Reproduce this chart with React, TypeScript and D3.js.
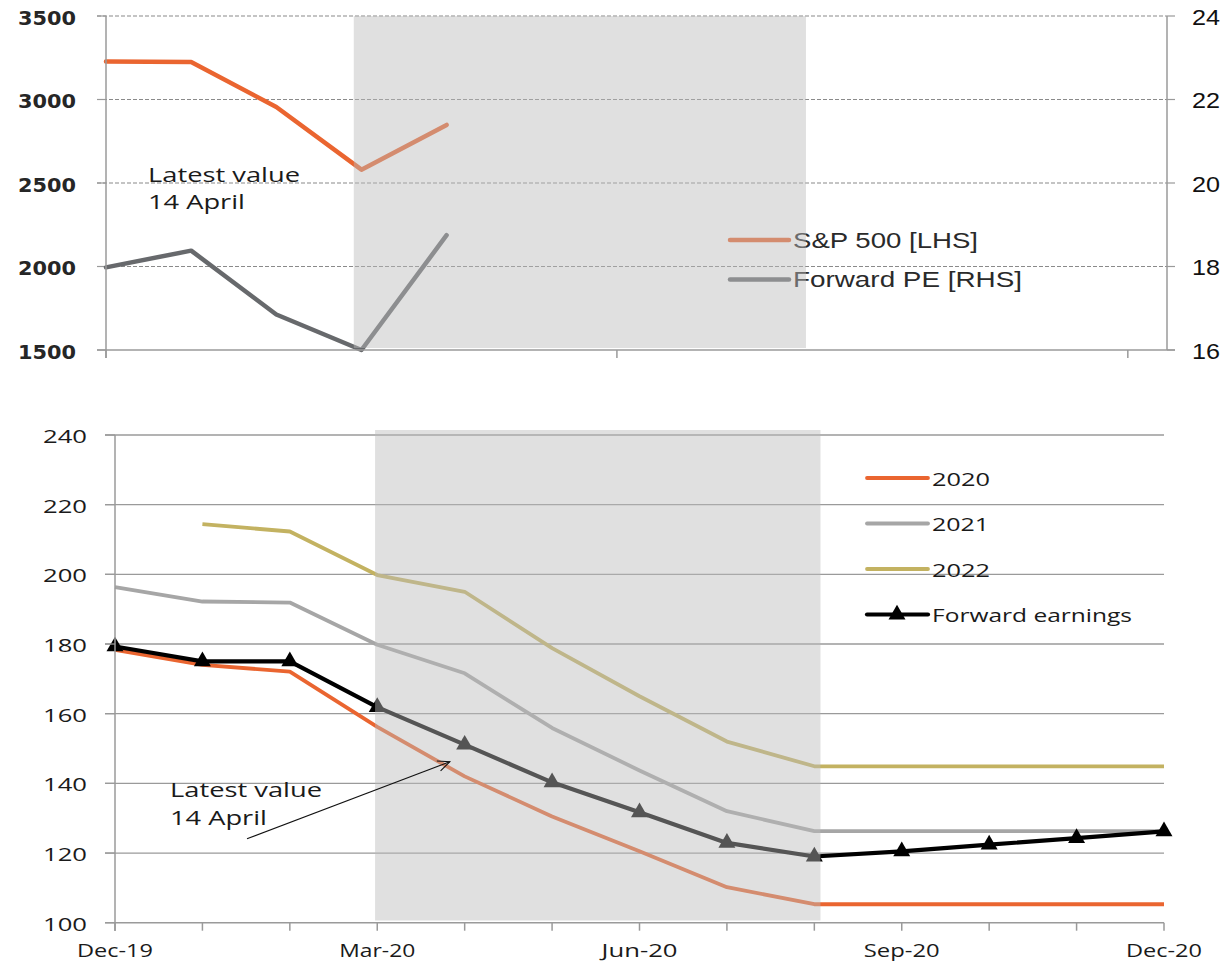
import React from 'react';
import * as d3 from 'd3';

const W = 1228;
const H = 966;

// ---------- Upper panel: S&P 500 level and forward PE (month index, Dec-19 = 0) ----------
const topMonths = [0, 1, 2, 3, 4];
const sp500 = [3228, 3224, 2955, 2580, 2848];
const forwardPE = [17.98, 18.38, 16.85, 16.0, 18.75];
const topLeftTicks = [1500, 2000, 2500, 3000, 3500];
const topRightTicks = [16, 18, 20, 22, 24];
const topXTicks = [0, 6, 12];
const topShade = [2.91, 8.22];
const topLegend = ['S&P 500 [LHS]', 'Forward PE [RHS]'];

// ---------- Lower panel: EPS estimates by year and forward earnings ----------
const months = [0, 1, 2, 3, 4, 5, 6, 7, 8, 9, 10, 11, 12];
const eps2020 = [178.3, 174.0, 172.1, 156.2, 142.0, 130.5, 120.5, 110.2, 105.3, 105.3, 105.3, 105.3, 105.3];
const eps2021 = [196.3, 192.2, 191.9, 179.8, 171.6, 155.9, 143.7, 132.0, 126.3, 126.3, 126.3, 126.3, 126.3];
const eps2022 = [null, 214.4, 212.3, 199.8, 195.0, 178.8, 165.0, 152.0, 144.9, 144.9, 144.9, 144.9, 144.9];
const fwdEarnings = [179.3, 175.0, 175.0, 161.9, 151.1, 140.3, 131.7, 122.9, 119.0, 120.5, 122.4, 124.3, 126.2];
const bottomYTicks = [100, 120, 140, 160, 180, 200, 220, 240];
const bottomXLabels = ['Dec-19', 'Mar-20', 'Jun-20', 'Sep-20', 'Dec-20'];
const bottomXLabelMonths = [0, 3, 6, 9, 12];
const bottomShade = [2.975, 8.07];
const bottomLegend = ['2020', '2021', '2022', 'Forward earnings'];
// annotation arrow: tail and head in (month, value)
const arrowTail = [1.51, 124.1];
const arrowHead = [3.83, 146.2];

const ORANGE = '#EA6530';
const PE_GRAY = '#67696C';
const GRAY21 = '#A6A6A6';
const KHAKI = '#C3B261';
const GRID = '#9A9A9A';
const TEXT = '#1A1A1A';
const SHADE_FILL = '#BBBBBB';
const SHADE_OPACITY = 0.455;

const LABEL_FONT = '"Open Sans", Lato, sans-serif';

type LblProps = {
  x: number;
  y: number;
  w: number;
  size: number;
  anchor?: 'start' | 'middle' | 'end';
  family?: string;
  fill?: string;
  weight?: number | string;
  children: React.ReactNode;
};

function Lbl({ x, y, w, size, anchor = 'start', family = LABEL_FONT, fill = TEXT, weight = 'normal', children }: LblProps) {
  return (
    <text
      x={x}
      y={y}
      textLength={w}
      lengthAdjust="spacingAndGlyphs"
      textAnchor={anchor}
      fontFamily={family}
      fontSize={size}
      fontWeight={weight}
      fill={fill}
    >
      {children}
    </text>
  );
}

export default function App() {
  // upper scales
  const xTop = d3.scaleLinear().domain([0, 12.46]).range([106, 1167]);
  const yTopL = d3.scaleLinear().domain([1500, 3500]).range([350, 16]);
  const yTopR = d3.scaleLinear().domain([16, 24]).range([350, 16]);

  // lower scales
  const xBot = d3.scaleLinear().domain([0, 12]).range([115, 1164]);
  const yBot = d3.scaleLinear().domain([100, 240]).range([922.7, 435]);

  const spLine = d3
    .line<number>()
    .x((_, i) => xTop(topMonths[i]))
    .y((d) => yTopL(d))(sp500);
  const peLine = d3
    .line<number>()
    .x((_, i) => xTop(topMonths[i]))
    .y((d) => yTopR(d))(forwardPE);

  const botLine = (vals: (number | null)[]) =>
    d3
      .line<number | null>()
      .defined((d) => d != null)
      .x((_, i) => xBot(months[i]))
      .y((d) => yBot(d as number))(vals) || '';

  const tri = d3.symbol(d3.symbolTriangle, 125)() || '';

  const topX0 = 97;
  const topXEnd = xTop.range()[1];
  const botX0 = 105;
  const botXEnd = xBot.range()[1];

  // arrow geometry
  const ax1 = xBot(arrowTail[0]);
  const ay1 = yBot(arrowTail[1]);
  const ax2 = xBot(arrowHead[0]);
  const ay2 = yBot(arrowHead[1]);
  const ang = Math.atan2(ay2 - ay1, ax2 - ax1);
  const headLen = 13;
  const spread = (24 * Math.PI) / 180;
  const h1 = [ax2 - headLen * Math.cos(ang - spread), ay2 - headLen * Math.sin(ang - spread)];
  const h2 = [ax2 - headLen * Math.cos(ang + spread), ay2 - headLen * Math.sin(ang + spread)];

  const topLegendColors = [ORANGE, PE_GRAY];
  const topLegendY = [240, 279.5];
  const bottomLegendColors = [ORANGE, GRAY21, KHAKI, '#000'];
  const bottomLegendY = [478, 523.5, 569, 614.5];
  const bottomLegendW = [58, 57, 58, 200];

  return (
    <svg
      width={W}
      height={H}
      viewBox={`0 0 ${W} ${H}`}
      style={{ position: 'absolute', left: 0, top: 0, display: 'block', background: '#fff' }}
    >
      {/* ================= Upper panel ================= */}
      <g>
        {/* dashed gridlines */}
        {topLeftTicks
          .filter((t) => t !== 1500)
          .map((t) => (
            <line
              key={`tg${t}`}
              x1={topX0}
              x2={topXEnd}
              y1={yTopL(t)}
              y2={yTopL(t)}
              stroke="#8A8A8A"
              strokeWidth={1.1}
              strokeDasharray="4 2"
            />
          ))}
        {/* left ticks */}
        {topLeftTicks.map((t) => (
          <line key={`tlt${t}`} x1={topX0} x2={xTop(0)} y1={yTopL(t)} y2={yTopL(t)} stroke={GRID} strokeWidth={1.2} />
        ))}
        {/* lines */}
        <path d={peLine || ''} fill="none" stroke={PE_GRAY} strokeWidth={4.5} strokeLinejoin="round" strokeLinecap="round" />
        <path d={spLine || ''} fill="none" stroke={ORANGE} strokeWidth={4.5} strokeLinejoin="round" strokeLinecap="round" />

        {/* legend */}
        {topLegend.map((name, i) => (
          <line
            key={`tl${i}`}
            x1={730}
            x2={789}
            y1={topLegendY[i]}
            y2={topLegendY[i]}
            stroke={topLegendColors[i]}
            strokeWidth={4.5}
            strokeLinecap="round"
          />
        ))}
        <Lbl x={793} y={248} w={185} size={22} family='"Liberation Sans", Arial, sans-serif' fill="#2A2A2A">
          {topLegend[0]}
        </Lbl>
        <Lbl x={793} y={287} w={229} size={22} family='"Liberation Sans", Arial, sans-serif' fill="#2A2A2A">
          {topLegend[1]}
        </Lbl>

        {/* shaded period */}
        <rect
          x={xTop(topShade[0])}
          y={16}
          width={xTop(topShade[1]) - xTop(topShade[0])}
          height={332}
          fill={SHADE_FILL}
          fillOpacity={SHADE_OPACITY}
        />

        {/* axes */}
        <line x1={xTop(0)} x2={xTop(0)} y1={16} y2={358} stroke={GRID} strokeWidth={1.5} />
        <line x1={topXEnd} x2={topXEnd} y1={16} y2={350} stroke={GRID} strokeWidth={1.5} />
        {topRightTicks.map((t) => (
          <line key={`trt${t}`} x1={topXEnd} x2={topXEnd + 8} y1={yTopR(t)} y2={yTopR(t)} stroke={GRID} strokeWidth={1.2} />
        ))}
        <line x1={topX0} x2={topXEnd + 8} y1={350} y2={350} stroke={GRID} strokeWidth={1.5} />
        {topXTicks.map((m) => (
          <line key={`txt${m}`} x1={xTop(m)} x2={xTop(m)} y1={350} y2={358} stroke={GRID} strokeWidth={1.5} />
        ))}

        {/* tick labels */}
        {topLeftTicks.map((t) => (
          <Lbl
            key={`tll${t}`}
            x={76}
            y={yTopL(t) + 8.5}
            w={58}
            size={20}
            anchor="end"
            weight="bold"
            family='"DejaVu Sans", Verdana, sans-serif'
            fill="#262626"
          >
            {t}
          </Lbl>
        ))}
        {topRightTicks.map((t) => (
          <Lbl key={`trl${t}`} x={1192} y={yTopR(t) + 8.5} w={28} size={22} family='"Liberation Sans", Arial, sans-serif' fill="#111">
            {t}
          </Lbl>
        ))}

        {/* annotation */}
        <Lbl x={148} y={181.5} w={152} size={20}>
          Latest value
        </Lbl>
        <Lbl x={148} y={209} w={97} size={20}>
          14 April
        </Lbl>
      </g>

      {/* ================= Lower panel ================= */}
      <g>
        {/* gridlines */}
        {bottomYTicks
          .filter((t) => t !== 100)
          .map((t) => (
            <line key={`bg${t}`} x1={botX0} x2={botXEnd} y1={yBot(t)} y2={yBot(t)} stroke={GRID} strokeWidth={1.3} />
          ))}

        {/* series */}
        <path d={botLine(eps2022)} fill="none" stroke={KHAKI} strokeWidth={3.8} strokeLinejoin="round" />
        <path d={botLine(eps2021)} fill="none" stroke={GRAY21} strokeWidth={3.8} strokeLinejoin="round" />
        <path d={botLine(eps2020)} fill="none" stroke={ORANGE} strokeWidth={3.8} strokeLinejoin="round" />
        <path d={botLine(fwdEarnings)} fill="none" stroke="#000" strokeWidth={4.2} strokeLinejoin="round" />
        {fwdEarnings.map((v, i) => (
          <path key={`m${i}`} d={tri} transform={`translate(${xBot(months[i])},${yBot(v)})`} fill="#000" />
        ))}

        {/* legend */}
        {bottomLegend.map((name, i) => (
          <g key={`bl${i}`}>
            <line
              x1={867}
              x2={928}
              y1={bottomLegendY[i]}
              y2={bottomLegendY[i]}
              stroke={bottomLegendColors[i]}
              strokeWidth={i === 3 ? 4.2 : 3.8}
              strokeLinecap="round"
            />
            {i === 3 && <path d={tri} transform={`translate(897,${bottomLegendY[i]})`} fill="#000" />}
            <Lbl x={932} y={bottomLegendY[i] + 7.5} w={bottomLegendW[i]} size={19}>
              {name}
            </Lbl>
          </g>
        ))}

        {/* shaded period */}
        <rect
          x={xBot(bottomShade[0])}
          y={430}
          width={xBot(bottomShade[1]) - xBot(bottomShade[0])}
          height={490.5}
          fill={SHADE_FILL}
          fillOpacity={SHADE_OPACITY}
        />

        {/* axes */}
        <line x1={xBot(0)} x2={xBot(0)} y1={435} y2={931} stroke={GRID} strokeWidth={1.5} />
        {bottomYTicks.map((t) => (
          <line key={`blt${t}`} x1={botX0} x2={xBot(0)} y1={yBot(t)} y2={yBot(t)} stroke={GRID} strokeWidth={1.3} />
        ))}
        <line x1={botX0} x2={botXEnd} y1={yBot(100)} y2={yBot(100)} stroke={GRID} strokeWidth={1.5} />
        {months.map((m) => (
          <line key={`bxt${m}`} x1={xBot(m)} x2={xBot(m)} y1={yBot(100)} y2={yBot(100) + 8} stroke={GRID} strokeWidth={1.5} />
        ))}

        {/* tick labels */}
        {bottomYTicks.map((t) => (
          <Lbl key={`byl${t}`} x={87} y={yBot(t) + 8} w={44} size={18} anchor="end">
            {t}
          </Lbl>
        ))}
        {bottomXLabels.map((lab, i) => (
          <Lbl key={`bxl${i}`} x={xBot(bottomXLabelMonths[i])} y={957} w={76} size={18} anchor="middle">
            {lab}
          </Lbl>
        ))}

        {/* annotation */}
        <Lbl x={170} y={797} w={152} size={20}>
          Latest value
        </Lbl>
        <Lbl x={170} y={825} w={97} size={20}>
          14 April
        </Lbl>
        <line x1={ax1} y1={ay1} x2={ax2} y2={ay2} stroke="#111" strokeWidth={1.1} />
        <polyline
          points={`${h1[0]},${h1[1]} ${ax2},${ay2} ${h2[0]},${h2[1]}`}
          fill="none"
          stroke="#111"
          strokeWidth={1.1}
        />
      </g>
    </svg>
  );
}
